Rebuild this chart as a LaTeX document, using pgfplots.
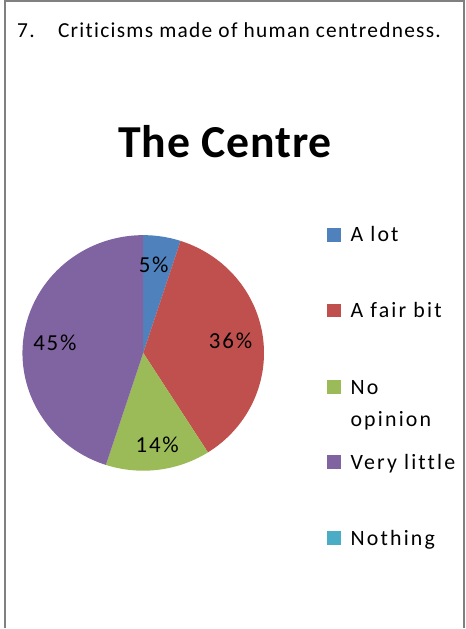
\documentclass[border=0pt]{standalone}
\usepackage{pgfplots}
\pgfplotsset{compat=1.18}
\usepackage{fontspec}
\setmainfont{Carlito}
\newfontfamily\spacedA[LetterSpace=8]{Carlito}
\newfontfamily\spacedB[LetterSpace=2]{Carlito}
\newfontfamily\spacedC[LetterSpace=6,Ligatures=NoCommon]{Carlito}
\newfontfamily\spacedD[LetterSpace=10,Ligatures=NoCommon]{Carlito}
\definecolor{cA}{HTML}{4F81BD}
\definecolor{cB}{HTML}{C0504D}
\definecolor{cC}{HTML}{9BBB59}
\definecolor{cD}{HTML}{8064A2}
\definecolor{cE}{HTML}{4BACC6}
\definecolor{frame}{HTML}{808080}
% shares (percent)
\def\vA{5}\def\vB{36}\def\vC{14}\def\vD{45}\def\vE{0}
\pgfmathsetmacro{\aA}{90}
\pgfmathsetmacro{\aB}{\aA-3.6*\vA}
\pgfmathsetmacro{\aC}{\aB-3.6*\vB}
\pgfmathsetmacro{\aD}{\aC-3.6*\vC}
\pgfmathsetmacro{\aE}{\aD-3.6*\vD}
\def\cx{143.5}\def\cy{275.5}\def\rx{121}\def\ry{118}
\begin{document}
\begin{tikzpicture}
\begin{axis}[
  scale only axis, width=466bp, height=629bp,
  xmin=0, xmax=466, ymin=0, ymax=629,
  hide axis, clip=false,
]
\fill[white] (axis cs:0,0) rectangle (axis cs:466,629);
% frame
\draw[frame, line width=2.2bp] (axis cs:4.8,0) -- (axis cs:4.8,628) -- (axis cs:465,628) -- (axis cs:465,0);
% pie wedges
\addplot[fill=cA, draw=none, domain=\aB:\aA, samples=40, variable=\t]
  ({\cx+\rx*cos(t)},{\cy+\ry*sin(t)}) -- (axis cs:\cx,\cy) -- cycle;
\addplot[fill=cB, draw=none, domain=\aC:\aB, samples=80, variable=\t]
  ({\cx+\rx*cos(t)},{\cy+\ry*sin(t)}) -- (axis cs:\cx,\cy) -- cycle;
\addplot[fill=cC, draw=none, domain=\aD:\aC, samples=40, variable=\t]
  ({\cx+\rx*cos(t)},{\cy+\ry*sin(t)}) -- (axis cs:\cx,\cy) -- cycle;
\addplot[fill=cD, draw=none, domain=\aE:\aD, samples=90, variable=\t]
  ({\cx+\rx*cos(t)},{\cy+\ry*sin(t)}) -- (axis cs:\cx,\cy) -- cycle;
% texts
\node[anchor=base west, inner sep=0, font=\spacedC\fontsize{21.5}{25}\selectfont] at (axis cs:17,592) {7.};
\node[anchor=base west, inner sep=0, font=\spacedC\fontsize{21.5}{25}\selectfont] at (axis cs:58,592) {Criticisms made of human centredness.};
\node[anchor=base, inner sep=0, font=\spacedB\fontsize{46}{54}\selectfont\bfseries] at (axis cs:225.5,471) {The Centre};
% data labels
\begin{scope}[every node/.style={anchor=base, inner sep=0, font=\spacedA\fontsize{23}{28}\selectfont}]
\node at (axis cs:154,356) {\vA\%};
\node at (axis cs:231,280) {\vB\%};
\node at (axis cs:157.5,176) {\vC\%};
\node at (axis cs:55,278) {\vD\%};
\end{scope}
% legend
\fill[cA] (axis cs:328,387) rectangle (axis cs:342,401);
\fill[cB] (axis cs:328,311) rectangle (axis cs:342,325);
\fill[cC] (axis cs:328,234) rectangle (axis cs:342,248);
\fill[cD] (axis cs:328,159) rectangle (axis cs:342,173);
\fill[cE] (axis cs:328,83) rectangle (axis cs:342,97);
\begin{scope}[every node/.style={anchor=base west, inner sep=0, font=\spacedD\fontsize{22}{26}\selectfont}]
\node at (axis cs:351,387) {A lot};
\node at (axis cs:351,311) {A fair bit};
\node at (axis cs:351,234) {No};
\node at (axis cs:351,202) {opinion};
\node at (axis cs:351,159) {Very little};
\node at (axis cs:351,83) {Nothing};
\end{scope}
\end{axis}
\end{tikzpicture}
\end{document}
